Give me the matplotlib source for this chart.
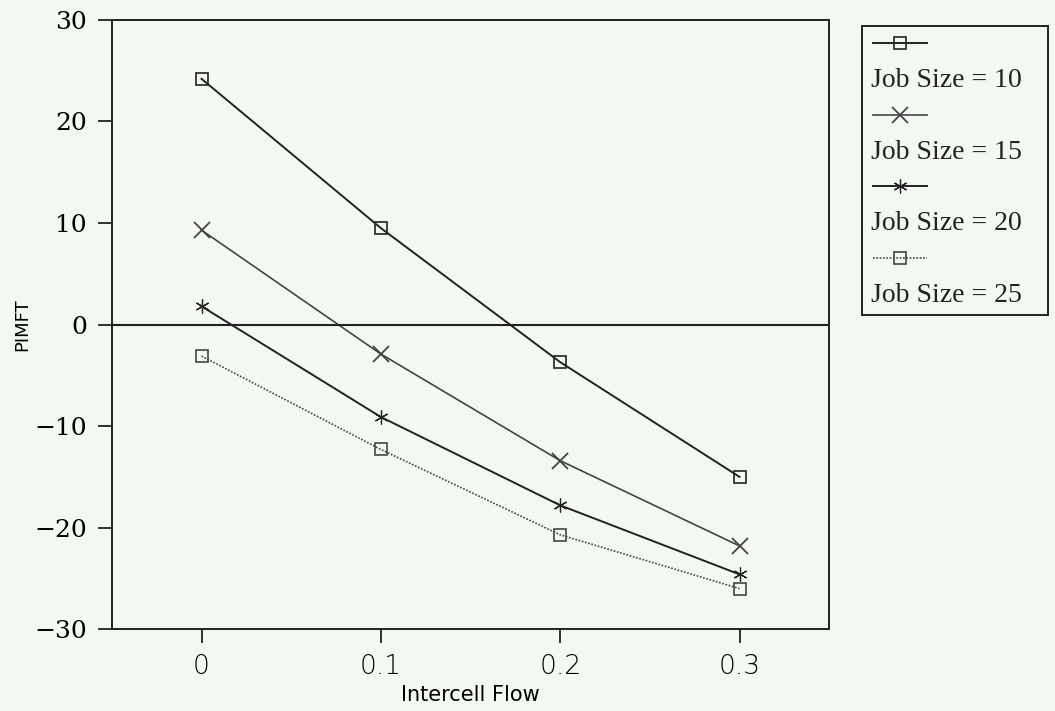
import numpy as np
import matplotlib
matplotlib.use("Agg")
from matplotlib import pyplot as plt
from matplotlib.lines import Line2D

# Intercell flow levels and PIMFT for each job size
flow = [0.0, 0.1, 0.2, 0.3]
js10 = [24.2, 9.5, -3.7, -15.0]
js15 = [9.3, -2.9, -13.4, -21.8]
js20 = [1.8, -9.1, -17.8, -24.6]
js25 = [-3.1, -12.3, -20.7, -26.0]
labels = ["Job Size = 10", "Job Size = 15", "Job Size = 20", "Job Size = 25"]
yticks = [-30, -20, -10, 0, 10, 20, 30]
xticks = [0, 0.1, 0.2, 0.3]

bg = "#f4f8f2"
ink = "#222222"
fig = plt.figure(figsize=(10.55, 7.11), dpi=100, facecolor=bg)
ax = fig.add_axes([0.106, 0.115, 0.68, 0.857])
ax.set_facecolor(bg)

styles = [
    dict(color=ink, lw=1.4, ls="-", marker="s", ms=9, mfc="none", mew=1.2),
    dict(color="#444444", lw=1.2, ls="-", marker="x", ms=11, mew=1.3),
    dict(color=ink, lw=1.4, ls="-", marker=(6, 2, 0), ms=10, mew=0.9),
    dict(color="#444444", lw=1.2, ls=(0, (1, 1)), marker="s", ms=9, mfc="none", mew=1.2),
]
series = [js10, js15, js20, js25]
for ys, st in zip(series, styles):
    ax.plot(flow, ys, **st)

ax.axhline(0, color=ink, lw=1.5)

ax.set_xlim(-0.05, 0.35)
ax.set_ylim(-30, 30)
ax.set_xticks(xticks)
ax.set_xticklabels(["0", "0.1", "0.2", "0.3"], fontfamily="DejaVu Sans",
                   fontsize=19, fontweight="light")
ax.set_yticks(yticks)
ax.set_yticklabels(["\u2212" + str(-v) if v < 0 else str(v) for v in yticks],
                   fontfamily="DejaVu Serif", fontsize=18)
ax.tick_params(direction="out", length=10, width=1.3, color=ink, pad=8)
for sp in ax.spines.values():
    sp.set_linewidth(1.4)
    sp.set_color(ink)

ax.set_xlabel("Intercell Flow", fontfamily="DejaVu Sans", fontsize=15, labelpad=4)
ax.set_ylabel("PIMFT", fontfamily="DejaVu Sans", fontsize=13, labelpad=2)

# legend box: marker sample on one row, label on the next
lax = fig.add_axes([862 / 1055, 1 - 315 / 711, 186 / 1055, 289 / 711])
lax.set_facecolor(bg)
lax.set_xlim(0, 186)
lax.set_ylim(289, 0)
lax.set_xticks([])
lax.set_yticks([])
for sp in lax.spines.values():
    sp.set_linewidth(1.4)
    sp.set_color(ink)
row0, step = 17, 35.8
for i, (lab, st) in enumerate(zip(labels, styles)):
    yh = row0 + 2 * i * step
    lax.add_line(Line2D([11, 38, 65], [yh, yh, yh], markevery=[1], **st))
    lax.text(9, yh + step + 2, lab, fontfamily="Liberation Serif", fontsize=20,
             va="center", ha="left", color=ink)

fig.savefig("out.png", dpi=100, facecolor=bg)
